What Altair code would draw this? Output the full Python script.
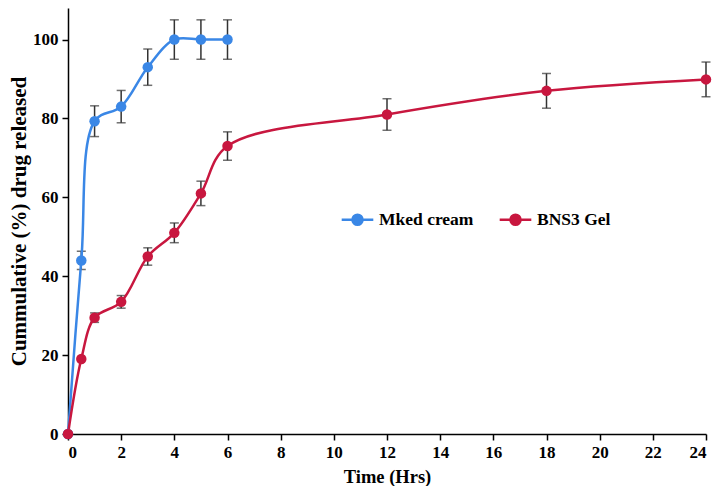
import pandas as pd
import altair as alt

# release profiles
mked_time = [0, 0.5, 1, 2, 3, 4, 5, 6]
mked_release = [0, 44, 79.3, 83, 93, 100, 100, 100]
mked_err = [0, 2.3, 3.9, 4.1, 4.6, 5, 5, 5]

gel_time = [0, 0.5, 1, 2, 3, 4, 5, 6, 12, 18, 24]
gel_release = [0, 19, 29.5, 33.5, 45, 51, 61, 73, 81, 87, 89.9]
gel_err = [0, 0, 1.2, 1.6, 2.2, 2.5, 3.1, 3.6, 4, 4.4, 4.4]

series = ["Mked cream", "BNS3 Gel"]
colors = ["#3A87E6", "#C8173F"]

frames = []
for name, t, r, e in [(series[0], mked_time, mked_release, mked_err),
                      (series[1], gel_time, gel_release, gel_err)]:
    d = pd.DataFrame({"time": t, "release": r, "err": e})
    d["series"] = name
    frames.append(d)
df = pd.concat(frames, ignore_index=True)
df["lo"] = df["release"] - df["err"]
df["hi"] = df["release"] + df["err"]
bars = df[df["err"] > 0]

font = "Liberation Serif"

x = alt.X("time:Q", title="Time (Hrs)",
          scale=alt.Scale(domain=[0, 24], nice=False),
          axis=alt.Axis(values=list(range(0, 25, 2)), grid=False))
y = alt.Y("release:Q", title="Cummulative (%) drug released",
          scale=alt.Scale(domain=[0, 108], nice=False),
          axis=alt.Axis(values=[0, 20, 40, 60, 80, 100], grid=False,
                        titleFontSize=21, titlePadding=3))
color = alt.Color("series:N", scale=alt.Scale(domain=series, range=colors),
                  title=None,
                  legend=alt.Legend(orient="none", legendX=272, legendY=194,
                                    direction="horizontal", columnPadding=20,
                                    symbolType="M-1,0L1,0M0.32,0A0.32,0.32,0,1,1,-0.32,0A0.32,0.32,0,1,1,0.32,0",
                                    symbolSize=1000, symbolStrokeWidth=2.5,
                                    labelFont=font, labelFontSize=17.5,
                                    labelFontWeight="bold", labelColor="black"))

base = alt.Chart(df)

err_rule = alt.Chart(bars).mark_rule(color="#333333", strokeWidth=1.5).encode(
    x="time:Q", y="lo:Q", y2="hi:Q")
err_lo = alt.Chart(bars).mark_tick(color="#333333", orient="horizontal",
                                   size=9, thickness=1.5).encode(x="time:Q", y="lo:Q")
err_hi = alt.Chart(bars).mark_tick(color="#333333", orient="horizontal",
                                   size=9, thickness=1.5).encode(x="time:Q", y="hi:Q")

lines = base.mark_line(interpolate="catmull-rom", strokeWidth=2.5).encode(
    x=x, y=y, color=color)
points = base.mark_circle(size=110, opacity=1).encode(
    x="time:Q", y="release:Q", color=alt.Color("series:N", legend=None,
                                                scale=alt.Scale(domain=series, range=colors)))

chart = alt.layer(err_rule, err_lo, err_hi, lines, points).properties(
    width=638, height=426,
    padding={"left": 0, "top": 0, "right": 0, "bottom": 0},
).configure_view(stroke=None).configure_axis(
    domainColor="black", domainWidth=1.5, tickColor="black", tickWidth=1.5,
    tickSize=6, labelFont=font, labelFontSize=17, labelFontWeight="bold",
    labelColor="black", titleFont=font, titleFontSize=18.5, titleFontWeight="bold",
    titleColor="black", labelPadding=4,
).configure_axisX(titlePadding=7)

chart.save("out.html", embed_options={"renderer": "svg", "actions": False})
